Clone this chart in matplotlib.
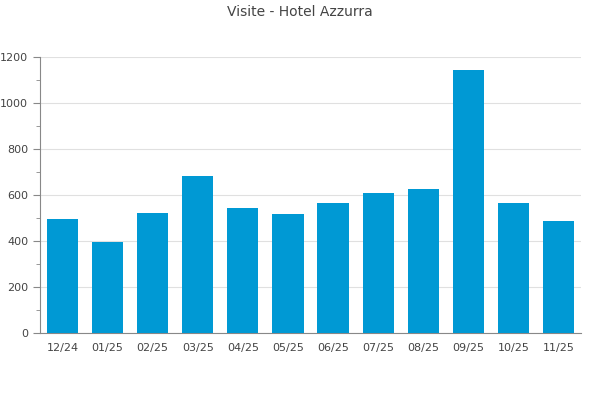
import numpy as np
import matplotlib
matplotlib.use('Agg')
import matplotlib.pyplot as plt
from matplotlib.ticker import MultipleLocator

# data
months = ['12/24', '01/25', '02/25', '03/25', '04/25', '05/25',
          '06/25', '07/25', '08/25', '09/25', '10/25', '11/25']
visits = [496, 396, 522, 683, 543, 517, 565, 609, 626, 1143, 565, 487]

text_col = '#444444'
axis_col = '#888888'

fig = plt.figure(figsize=(6, 4), dpi=100)
ax = fig.add_axes([0.0667, 0.1675, 0.9016, 0.69])

x = np.arange(len(months))
ax.bar(x, visits, width=0.69, color='#0099d4', zorder=3)

ax.set_xlim(-0.5, len(months) - 0.5)
ax.set_ylim(0, 1200)
ax.set_xticks(x)
ax.set_xticklabels(months)
ax.yaxis.set_major_locator(MultipleLocator(200))
ax.yaxis.set_minor_locator(MultipleLocator(100))

ax.grid(axis='y', color='#e0e0e0', linewidth=0.8, zorder=0)
for s in ['top', 'right']:
    ax.spines[s].set_visible(False)
for s in ['left', 'bottom']:
    ax.spines[s].set_color(axis_col)

ax.tick_params(axis='x', length=0, pad=7, labelsize=8, labelcolor=text_col)
ax.tick_params(axis='y', which='major', length=5, color=axis_col, labelsize=8, labelcolor=text_col)
ax.tick_params(axis='y', which='minor', length=3, color=axis_col)

fig.text(0.5, 0.97, 'Visite - Hotel Azzurra', ha='center', va='center',
         fontsize=10, color=text_col)

fig.savefig('out.png', dpi=100)
